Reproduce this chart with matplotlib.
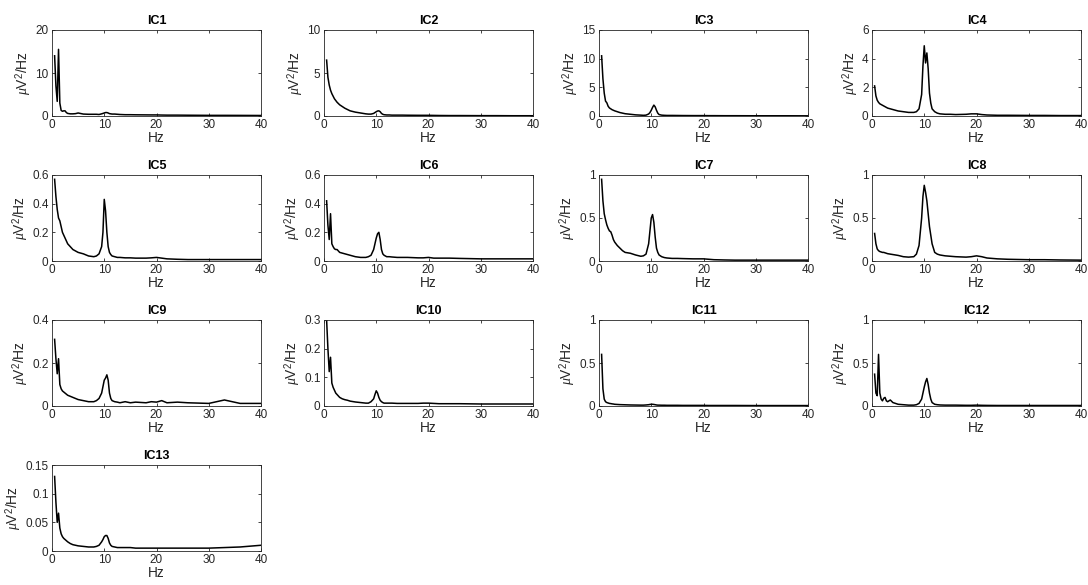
import matplotlib
matplotlib.use("Agg")
import matplotlib.pyplot as plt
from matplotlib.ticker import FuncFormatter

plt.rcParams['font.family'] = ['Liberation Sans', 'DejaVu Sans']
plt.rcParams['mathtext.fontset'] = 'custom'
plt.rcParams['mathtext.rm'] = 'Liberation Sans'
plt.rcParams['mathtext.it'] = 'Liberation Serif:italic'

# Shared frequency grid (Hz)
freqs = [0.5, 0.75, 1.0, 1.25, 1.5, 1.75, 2.0, 2.25, 2.5, 2.75, 3.0,
         3.5, 4, 4.5, 5, 6, 7, 8,
         8.5, 9, 9.5, 9.75, 10, 10.25, 10.5, 10.75, 11, 11.25, 11.5, 12, 12.5, 13,
         14, 15, 16, 18, 19, 20, 21, 22, 24, 26, 30, 33, 36, 40]

titles = ['IC1', 'IC2', 'IC3', 'IC4', 'IC5', 'IC6', 'IC7', 'IC8',
          'IC9', 'IC10', 'IC11', 'IC12', 'IC13']

ic1 = [14, 7, 3.4, 15.5, 3.0, 1.3, 1.1, 1.2, 1.2, 0.8, 0.6,
       0.5, 0.5, 0.55, 0.7, 0.45, 0.4, 0.4,
       0.4, 0.35, 0.5, 0.6, 0.7, 0.8, 0.8, 0.7, 0.55, 0.5, 0.45, 0.45, 0.4, 0.35,
       0.3, 0.3, 0.28, 0.26, 0.25, 0.25, 0.22, 0.2, 0.2, 0.18, 0.15, 0.15, 0.14, 0.12]
ic2 = [6.5, 4.5, 3.6, 3.0, 2.6, 2.3, 2.0, 1.8, 1.6, 1.45, 1.3,
       1.1, 0.9, 0.75, 0.6, 0.45, 0.35, 0.25,
       0.22, 0.22, 0.3, 0.4, 0.5, 0.58, 0.6, 0.5, 0.3, 0.2, 0.15, 0.12, 0.12, 0.1,
       0.1, 0.1, 0.09, 0.08, 0.08, 0.08, 0.07, 0.06, 0.05, 0.05, 0.04, 0.04, 0.03, 0.03]
ic3 = [10.5, 6.5, 4.0, 2.6, 2.3, 1.7, 1.4, 1.25, 1.1, 1.0, 0.9,
       0.75, 0.6, 0.5, 0.4, 0.3, 0.2, 0.15,
       0.12, 0.15, 0.35, 0.6, 1.0, 1.5, 1.9, 1.6, 1.0, 0.5, 0.25, 0.15, 0.12, 0.1,
       0.1, 0.09, 0.08, 0.07, 0.07, 0.07, 0.06, 0.06, 0.05, 0.05, 0.04, 0.04, 0.04, 0.03]
ic4 = [2.1, 1.4, 1.1, 0.95, 0.85, 0.8, 0.75, 0.7, 0.65, 0.6, 0.55,
       0.5, 0.45, 0.4, 0.35, 0.3, 0.25, 0.25,
       0.3, 0.5, 1.5, 3.5, 4.9, 3.7, 4.4, 3.3, 1.6, 0.9, 0.5, 0.3, 0.2, 0.15,
       0.12, 0.12, 0.1, 0.12, 0.15, 0.15, 0.1, 0.07, 0.05, 0.05, 0.04, 0.04, 0.03, 0.03]
ic5 = [0.57, 0.45, 0.36, 0.3, 0.28, 0.24, 0.2, 0.18, 0.16, 0.14, 0.12,
       0.1, 0.08, 0.07, 0.06, 0.05, 0.035, 0.03,
       0.035, 0.05, 0.1, 0.2, 0.43, 0.35, 0.2, 0.1, 0.06, 0.045, 0.035, 0.03, 0.025, 0.025,
       0.022, 0.022, 0.02, 0.02, 0.022, 0.025, 0.02, 0.015, 0.012, 0.01, 0.01, 0.01, 0.01, 0.01]
ic6 = [0.42, 0.25, 0.15, 0.33, 0.12, 0.1, 0.085, 0.08, 0.08, 0.07, 0.06,
       0.055, 0.05, 0.045, 0.04, 0.03, 0.025, 0.025,
       0.03, 0.04, 0.08, 0.12, 0.16, 0.19, 0.2, 0.15, 0.08, 0.05, 0.04, 0.03, 0.03, 0.028,
       0.025, 0.025, 0.025, 0.022, 0.022, 0.025, 0.02, 0.02, 0.02, 0.018, 0.015, 0.015, 0.015, 0.015]
ic7 = [0.95, 0.7, 0.55, 0.48, 0.42, 0.38, 0.35, 0.34, 0.3, 0.25, 0.22,
       0.18, 0.15, 0.12, 0.1, 0.09, 0.07, 0.055,
       0.06, 0.08, 0.2, 0.35, 0.5, 0.54, 0.45, 0.28, 0.15, 0.1, 0.07, 0.05, 0.04, 0.035,
       0.03, 0.03, 0.028, 0.025, 0.025, 0.025, 0.02, 0.015, 0.012, 0.01, 0.01, 0.01, 0.01, 0.01]
ic8 = [0.32, 0.2, 0.14, 0.12, 0.11, 0.105, 0.1, 0.1, 0.095, 0.09, 0.085,
       0.08, 0.075, 0.07, 0.065, 0.05, 0.045, 0.05,
       0.08, 0.18, 0.5, 0.75, 0.88, 0.8, 0.7, 0.55, 0.4, 0.3, 0.2, 0.1, 0.08, 0.07,
       0.06, 0.055, 0.05, 0.045, 0.05, 0.06, 0.05, 0.035, 0.025, 0.02, 0.015, 0.015, 0.012, 0.01]
ic9 = [0.31, 0.22, 0.15, 0.22, 0.1, 0.08, 0.07, 0.065, 0.06, 0.055, 0.05,
       0.045, 0.04, 0.035, 0.03, 0.025, 0.02, 0.02,
       0.025, 0.035, 0.06, 0.09, 0.12, 0.13, 0.145, 0.12, 0.06, 0.035, 0.025, 0.02, 0.018, 0.015,
       0.02, 0.015, 0.018, 0.015, 0.02, 0.018, 0.025, 0.015, 0.018, 0.015, 0.012, 0.028, 0.012, 0.012]
ic10 = [0.3, 0.2, 0.12, 0.17, 0.08, 0.065, 0.055, 0.045, 0.04, 0.035, 0.03,
        0.025, 0.022, 0.02, 0.017, 0.014, 0.012, 0.01,
        0.01, 0.015, 0.025, 0.04, 0.053, 0.045, 0.03, 0.02, 0.015, 0.012, 0.01, 0.01, 0.01, 0.01,
        0.009, 0.009, 0.009, 0.009, 0.01, 0.01, 0.009, 0.008, 0.008, 0.008, 0.007, 0.007, 0.007, 0.007]
ic11 = [0.6, 0.2, 0.08, 0.05, 0.04, 0.035, 0.03, 0.028, 0.025, 0.023, 0.02,
        0.018, 0.016, 0.015, 0.014, 0.012, 0.011, 0.01,
        0.01, 0.012, 0.015, 0.018, 0.02, 0.02, 0.018, 0.015, 0.012, 0.01, 0.01, 0.009, 0.009, 0.008,
        0.008, 0.008, 0.007, 0.007, 0.007, 0.007, 0.006, 0.006, 0.006, 0.006, 0.005, 0.005, 0.005, 0.005]
ic12 = [0.37, 0.15, 0.12, 0.6, 0.15, 0.08, 0.06, 0.09, 0.1, 0.06, 0.05,
        0.07, 0.04, 0.03, 0.02, 0.015, 0.01, 0.01,
        0.015, 0.03, 0.08, 0.15, 0.22, 0.28, 0.32, 0.25, 0.15, 0.08, 0.04, 0.02, 0.015, 0.012,
        0.01, 0.01, 0.01, 0.008, 0.008, 0.01, 0.008, 0.007, 0.006, 0.006, 0.006, 0.006, 0.006, 0.006]
ic13 = [0.13, 0.085, 0.05, 0.066, 0.04, 0.03, 0.025, 0.022, 0.02, 0.018, 0.016,
        0.013, 0.011, 0.01, 0.009, 0.008, 0.007, 0.007,
        0.008, 0.01, 0.016, 0.02, 0.025, 0.027, 0.027, 0.022, 0.014, 0.01, 0.008, 0.007, 0.006, 0.006,
        0.006, 0.006, 0.005, 0.005, 0.005, 0.005, 0.005, 0.005, 0.005, 0.005, 0.005, 0.006, 0.007, 0.01]

series = [ic1, ic2, ic3, ic4, ic5, ic6, ic7, ic8, ic9, ic10, ic11, ic12, ic13]

y_limits = [20, 10, 15, 6, 0.6, 0.6, 1, 1, 0.4, 0.3, 1, 1, 0.15]
y_ticks = [[0, 10, 20], [0, 5, 10], [0, 5, 10, 15], [0, 2, 4, 6],
           [0, 0.2, 0.4, 0.6], [0, 0.2, 0.4, 0.6], [0, 0.5, 1], [0, 0.5, 1],
           [0, 0.2, 0.4], [0, 0.1, 0.2, 0.3], [0, 0.5, 1], [0, 0.5, 1],
           [0, 0.05, 0.1, 0.15]]
x_ticks = [0, 10, 20, 30, 40]

W, H = 1088, 585
fig = plt.figure(figsize=(W / 100, H / 100), dpi=100)

col_left = [52, 324, 599, 872]
row_top = [30, 175, 320, 465]
aw, ah = 209, 86
gray = (0.15, 0.15, 0.15)

fmt = FuncFormatter(lambda v, p: ('%g' % v))

for i, (name, vals) in enumerate(zip(titles, series)):
    r, c = divmod(i, 4)
    ax = fig.add_axes([col_left[c] / W, 1 - (row_top[r] + ah) / H, aw / W, ah / H])
    ax.plot(freqs, vals, color='black', lw=1.1)
    ax.set_xlim(0, 40)
    ax.set_ylim(0, y_limits[i])
    ax.set_xticks(x_ticks)
    ax.set_yticks(y_ticks[i])
    ax.yaxis.set_major_formatter(fmt)
    ax.tick_params(direction='in', top=True, right=True, length=2.5, width=0.6,
                   labelsize=8.5, colors=gray, pad=2.5)
    for s in ax.spines.values():
        s.set_color(gray)
        s.set_linewidth(0.6)
    ax.set_title(name, fontsize=9, fontweight='bold', pad=4, color='black')
    ax.set_xlabel('Hz', fontsize=9.8, color=gray, labelpad=0)
    ax.set_ylabel(r'$\mathit{\mu}$V$^2$/Hz', fontsize=10, color=gray, labelpad=1)

fig.savefig('out.png', dpi=100)
